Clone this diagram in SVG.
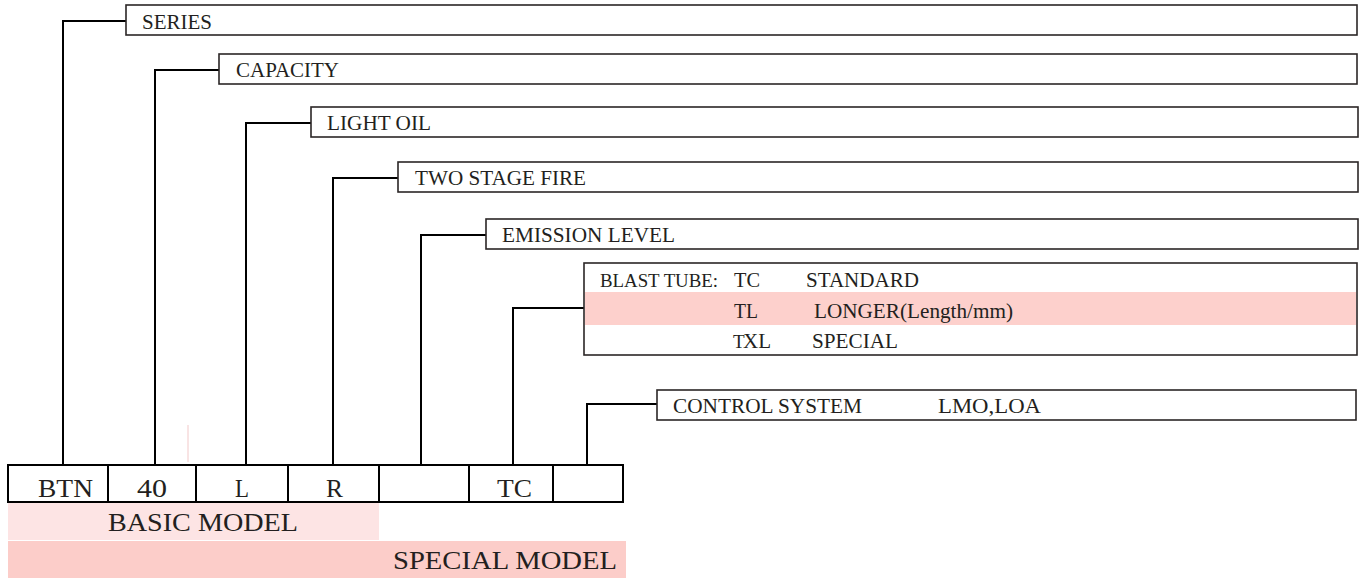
<svg xmlns="http://www.w3.org/2000/svg" width="1362" height="579" viewBox="0 0 1362 579">
<style>
.box{fill:#fff;stroke:#2b2626;stroke-width:1.6}
.conn{fill:none;stroke:#000;stroke-width:2}
.cell{fill:#fff;stroke:#000;stroke-width:2}
text{font-family:"Liberation Serif","Times New Roman",serif;fill:#231f20}
.lbl{font-size:21px}
.big{font-size:25px}
</style>
<rect width="1362" height="579" fill="#fff"/>
<g id="connectors">
<polyline class="conn" points="63,465 63,21 126,21"/>
<polyline class="conn" points="155,465 155,70 219,70"/>
<polyline class="conn" points="246,465 246,123 311,123"/>
<polyline class="conn" points="333,465 333,178 398,178"/>
<polyline class="conn" points="421,465 421,235 486,235"/>
<polyline class="conn" points="513,465 513,308 584,308"/>
<polyline class="conn" points="587,465 587,404 657,404"/>
<line x1="188" y1="425" x2="188" y2="462" stroke="#f2c9c9" stroke-width="1"/>
</g>
<g id="series">
<rect class="box" x="126" y="5" width="1231" height="30"/>
<text class="lbl" x="142" y="29" textLength="70" lengthAdjust="spacingAndGlyphs">SERIES</text>
</g>
<g id="capacity">
<rect class="box" x="219" y="54" width="1138" height="30"/>
<text class="lbl" x="236" y="77" textLength="103" lengthAdjust="spacingAndGlyphs">CAPACITY</text>
</g>
<g id="light-oil">
<rect class="box" x="311" y="107" width="1047" height="30"/>
<text class="lbl" x="327" y="130" textLength="104" lengthAdjust="spacingAndGlyphs">LIGHT OIL</text>
</g>
<g id="two-stage">
<rect class="box" x="398" y="162" width="960" height="30"/>
<text class="lbl" x="415" y="185" textLength="171" lengthAdjust="spacingAndGlyphs">TWO STAGE FIRE</text>
</g>
<g id="emission">
<rect class="box" x="486" y="219" width="872" height="30"/>
<text class="lbl" x="502" y="242" textLength="173" lengthAdjust="spacingAndGlyphs">EMISSION LEVEL</text>
</g>
<g id="blast-tube">
<rect class="box" x="584" y="263" width="773" height="92"/>
<rect x="585" y="292" width="771" height="33" fill="#fdd0cc"/>
<text x="600" y="287" font-size="18" textLength="118" lengthAdjust="spacingAndGlyphs">BLAST TUBE:</text>
<text class="lbl" x="734" y="287" textLength="26" lengthAdjust="spacingAndGlyphs">TC</text>
<text class="lbl" x="806" y="287" textLength="113" lengthAdjust="spacingAndGlyphs">STANDARD</text>
<text class="lbl" x="734" y="318" textLength="24" lengthAdjust="spacingAndGlyphs">TL</text>
<text class="lbl" x="814" y="318" textLength="199" lengthAdjust="spacingAndGlyphs">LONGER(Length/mm)</text>
<text x="733" y="348" font-size="19" font-family="Liberation Sans Narrow,Liberation Sans,sans-serif" font-weight="300">T</text>
<text x="743" y="348" font-size="20" font-family="Liberation Sans,Arial,sans-serif" textLength="28" lengthAdjust="spacingAndGlyphs">XL</text>
<text class="lbl" x="812" y="348" textLength="86" lengthAdjust="spacingAndGlyphs">SPECIAL</text>
</g>
<g id="control">
<rect class="box" x="657" y="390" width="699" height="30"/>
<text class="lbl" x="673" y="413" textLength="189" lengthAdjust="spacingAndGlyphs">CONTROL SYSTEM</text>
<text class="lbl" x="938" y="413" textLength="103" lengthAdjust="spacingAndGlyphs">LMO,LOA</text>
</g>
<g id="model-code">
<rect class="cell" x="8" y="465" width="615" height="37"/>
<line class="conn" x1="108" y1="465" x2="108" y2="502"/>
<line class="conn" x1="196" y1="465" x2="196" y2="502"/>
<line class="conn" x1="288" y1="465" x2="288" y2="502"/>
<line class="conn" x1="379" y1="465" x2="379" y2="502"/>
<line class="conn" x1="469" y1="465" x2="469" y2="502"/>
<line class="conn" x1="553" y1="465" x2="553" y2="502"/>
<text class="big" x="38" y="497" textLength="55" lengthAdjust="spacingAndGlyphs">BTN</text>
<text class="big" x="137" y="497" textLength="30" lengthAdjust="spacingAndGlyphs">40</text>
<text class="big" x="235" y="497" textLength="14" lengthAdjust="spacingAndGlyphs">L</text>
<text class="big" x="326" y="497" textLength="17" lengthAdjust="spacingAndGlyphs">R</text>
<text class="big" x="497" y="497" textLength="35" lengthAdjust="spacingAndGlyphs">TC</text>
</g>
<g id="basic-model">
<rect x="8" y="503" width="371" height="37" fill="#fde4e4"/>
<text class="big" x="108" y="531" textLength="190" lengthAdjust="spacingAndGlyphs">BASIC MODEL</text>
</g>
<g id="special-model">
<rect x="8" y="541" width="618" height="37" fill="#fccdc9"/>
<text class="big" x="393" y="569" textLength="224" lengthAdjust="spacingAndGlyphs">SPECIAL MODEL</text>
</g>
</svg>
